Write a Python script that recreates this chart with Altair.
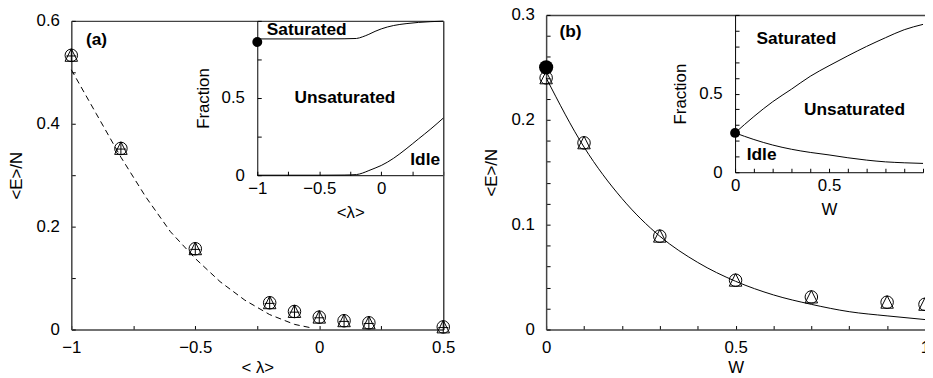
import altair as alt
import pandas as pd

FONT = "Liberation Sans"

# ---------------- data: panel (a) ----------------
lam_pts = [-1.0, -0.8, -0.5, -0.2, -0.1, 0.0, 0.1, 0.2, 0.5]
E_a_pts = [0.533, 0.352, 0.157, 0.052, 0.035, 0.024, 0.017, 0.013, 0.005]
lam_curve = [-1.0, -0.9, -0.8, -0.7, -0.6, -0.5, -0.4, -0.3, -0.2, -0.1, -0.03]
E_a_curve = [0.505, 0.42, 0.335, 0.258, 0.19, 0.138, 0.093, 0.057, 0.029, 0.010, 0.003]
lam_inset = [-1.0, -0.5, -0.3, -0.2, -0.15, -0.1, -0.05, 0.0, 0.1, 0.2, 0.3, 0.4, 0.5]
sat_edge_a = [0.883, 0.883, 0.884, 0.886, 0.897, 0.913, 0.932, 0.948, 0.970, 0.982, 0.990, 0.995, 0.998]
idle_edge_a = [0.0, 0.0, 0.001, 0.004, 0.014, 0.030, 0.046, 0.063, 0.110, 0.170, 0.235, 0.300, 0.370]
lam_dot_a = [-1.0]
frac_dot_a = [0.863]

# ---------------- data: panel (b) ----------------
W_pts = [0.0, 0.1, 0.3, 0.5, 0.7, 0.9, 1.0]
E_b_pts = [0.240, 0.178, 0.089, 0.047, 0.031, 0.026, 0.024]
W_curve = [0.0, 0.1, 0.2, 0.3, 0.4, 0.5, 0.6, 0.7, 0.8, 0.9, 1.0]
E_b_curve = [0.240, 0.174, 0.125, 0.089, 0.064, 0.046, 0.033, 0.024, 0.017, 0.013, 0.0095]
W_dot = [0.0]
E_b_dot = [0.25]
W_inset = [0.0, 0.1, 0.2, 0.3, 0.4, 0.5, 0.6, 0.7, 0.8, 0.9, 1.0]
sat_edge_b = [0.25, 0.354, 0.448, 0.528, 0.61, 0.677, 0.74, 0.80, 0.855, 0.906, 0.94]
idle_edge_b = [0.25, 0.208, 0.173, 0.146, 0.126, 0.11, 0.092, 0.077, 0.066, 0.06, 0.056]

# ---------------- tick values ----------------
ticks_lam = [-1.0, -0.75, -0.5, -0.25, 0.0, 0.25, 0.5]
ticks_Ea = [0.0, 0.1, 0.2, 0.3, 0.4, 0.5, 0.6]
ticks_frac_a = [0.0, 0.25, 0.5, 0.75, 1.0]
ticks_W = [0.0, 0.1, 0.2, 0.3, 0.4, 0.5, 0.6, 0.7, 0.8, 0.9, 1.0]
ticks_Eb = [0.0, 0.02, 0.04, 0.06, 0.08, 0.1, 0.12, 0.14, 0.16, 0.18, 0.2, 0.22, 0.24, 0.26, 0.28, 0.3]
ticks_frac_b = [0.0, 0.1, 0.2, 0.3, 0.4, 0.5, 0.6, 0.7, 0.8, 0.9, 1.0]

# ---------------- layout (plot-area pixels) ----------------
PW, PH = 863, 318
def S(domain, rng):
    return alt.Scale(domain=domain, range=rng, nice=False, zero=False)

XA = ([-1.0, 0.5], [0, 376])
YA = ([0.0, 0.6], [PH, 6])
XAi = ([-1.0, 0.5], [188, 376])
YAi = ([0.0, 1.0], [162, 6])
XB = ([0.0, 1.0], [480, 863])
YB = ([0.0, 0.3], [PH, 0])
XBi = ([0.0, 1.0], [671, 861])
YBi = ([0.0, 1.0], [159, 0])

MAIN_DOMAIN = "#444444"

def axis(orient, values, test, title, offset=0, lpad=14, tpad=6,
         dcolor="black", dwidth=1.0):
    return alt.Axis(
        orient=orient, offset=offset, values=values, format="~g",
        labelExpr=f"({test}) ? datum.label : ''",
        tickSize={"expr": "-4"}, tickColor="black", tickWidth=1,
        labelPadding=lpad, labelFlush=False, labelOverlap=False,
        labelFont=FONT, labelFontSize=17, labelColor="black",
        title=title, titleFont=FONT, titleFontSize=17,
        titleFontWeight="normal", titleColor="black", titlePadding=tpad,
        domainColor=dcolor, domainWidth=dwidth, grid=False,
    )

def border(orient, offset):
    return alt.Axis(orient=orient, offset=offset, labels=False, ticks=False,
                    title=None, grid=False, domainColor=MAIN_DOMAIN,
                    domainWidth=1.5)

half = "abs(datum.value*2-round(datum.value*2))<0.001"

TRI = "M0,-1.05L-1,0.95L1,0.95Z"
PLUS = "M0,-1.05L0,1.0M-0.8,0.1L0.8,0.1"

def text_layer(label, xd, yd, xs, ys):
    return alt.Chart(pd.DataFrame({"k": [0]})).mark_text(
        text=label, font=FONT, fontSize=17.5, fontWeight="bold",
        align="left", baseline="middle", color="black"
    ).encode(
        x=alt.XDatum(xd, type="quantitative", scale=S(*xs), axis=None),
        y=alt.YDatum(yd, type="quantitative", scale=S(*ys), axis=None),
    )

# ---------------- panel (a) ----------------
df_a = pd.DataFrame({
    "lam": lam_pts * 3,
    "E": E_a_pts * 3,
    "m": ["circle"] * len(lam_pts) + ["triangle"] * len(lam_pts) + ["plus"] * len(lam_pts),
})
a_points = alt.Chart(df_a).mark_point(filled=False, color="black", strokeWidth=1, size=160, opacity=1).encode(
    x=alt.X("lam:Q", scale=S(*XA), axis=axis("bottom", ticks_lam, half, "< λ>", lpad=14, tpad=4,
                                              dcolor=MAIN_DOMAIN, dwidth=1.5)),
    y=alt.Y("E:Q", scale=S(*YA), axis=axis("left", ticks_Ea,
                                          "abs(datum.value*5-round(datum.value*5))<0.001",
                                          "<E>/N", lpad=16, tpad=11, dcolor=MAIN_DOMAIN, dwidth=1.5)),
    shape=alt.Shape("m:N", scale=alt.Scale(domain=["circle", "triangle", "plus"],
                                           range=["circle", TRI, PLUS]), legend=None),
)
a_curve = alt.Chart(pd.DataFrame({"lam": lam_curve, "E": E_a_curve})).mark_line(
    color="black", strokeWidth=1, strokeDash=[6, 4]
).encode(
    x=alt.X("lam:Q", scale=S(*XA), axis=border("top", -6)),
    y=alt.Y("E:Q", scale=S(*YA), axis=border("right", -(PW - 376))),
)
df_ai = pd.DataFrame({
    "lam": lam_inset * 2,
    "frac": sat_edge_a + idle_edge_a,
    "edge": ["saturated"] * len(lam_inset) + ["idle"] * len(lam_inset),
})
a_inset = alt.Chart(df_ai).mark_line(color="black", strokeWidth=1, interpolate="monotone").encode(
    x=alt.X("lam:Q", scale=S(*XAi), axis=axis("bottom", ticks_lam, half + " && datum.value<0.4", "<λ>",
                                               offset=-(PH - 162), lpad=9.5, tpad=8)),
    y=alt.Y("frac:Q", scale=S(*YAi), axis=axis("left", ticks_frac_a, half + " && datum.value<0.6", "Fraction",
                                               offset=-188, lpad=17, tpad=9)),
    detail="edge:N",
)
a_dot = alt.Chart(pd.DataFrame({"lam": lam_dot_a, "frac": frac_dot_a})).mark_point(
    filled=True, color="black", size=100, opacity=1, shape="circle"
).encode(
    x=alt.X("lam:Q", scale=S(*XAi), axis=None),
    y=alt.Y("frac:Q", scale=S(*YAi), axis=None),
)
a_texts = [
    text_layer("Saturated", -0.923, 0.942, XAi, YAi),
    text_layer("Unsaturated", -0.70, 0.502, XAi, YAi),
    text_layer("Idle", 0.234, 0.096, XAi, YAi),
    text_layer("(a)", -0.941, 0.5635, XA, YA),
]

# ---------------- panel (b) ----------------
df_b = pd.DataFrame({
    "W": W_pts * 2,
    "E": E_b_pts * 2,
    "m": ["circle"] * len(W_pts) + ["triangle"] * len(W_pts),
})
b_points = alt.Chart(df_b).mark_point(filled=False, color="black", strokeWidth=1, size=160, opacity=1).encode(
    x=alt.X("W:Q", scale=S(*XB), axis=axis("bottom", ticks_W, half, "W", lpad=14, tpad=4,
                                            dcolor=MAIN_DOMAIN, dwidth=1.5)),
    y=alt.Y("E:Q", scale=S(*YB), axis=axis("left", ticks_Eb,
                                          "abs(datum.value*10-round(datum.value*10))<0.001",
                                          "<E>/N", offset=-480, lpad=16, tpad=11,
                                          dcolor=MAIN_DOMAIN, dwidth=1.5)),
    shape=alt.Shape("m:N", scale=alt.Scale(domain=["circle", "triangle"], range=["circle", TRI]),
                    legend=None),
)
b_curve = alt.Chart(pd.DataFrame({"W": W_curve, "E": E_b_curve})).mark_line(
    color="black", strokeWidth=1, interpolate="monotone"
).encode(
    x=alt.X("W:Q", scale=S(*XB), axis=border("top", 0)),
    y=alt.Y("E:Q", scale=S(*YB), axis=None),
)
b_dot = alt.Chart(pd.DataFrame({"W": W_dot, "E": E_b_dot})).mark_point(
    filled=True, color="black", size=205, opacity=1, shape="circle"
).encode(
    x=alt.X("W:Q", scale=S(*XB), axis=None),
    y=alt.Y("E:Q", scale=S(*YB), axis=None),
)
df_bi = pd.DataFrame({
    "W": W_inset * 2,
    "frac": sat_edge_b + idle_edge_b,
    "edge": ["saturated"] * len(W_inset) + ["idle"] * len(W_inset),
})
b_inset = alt.Chart(df_bi).mark_line(color="black", strokeWidth=1, interpolate="monotone").encode(
    x=alt.X("W:Q", scale=S(*XBi), axis=axis("bottom", ticks_W, half + " && datum.value<0.9", "W",
                                             offset=-(PH - 159), lpad=9.5, tpad=8)),
    y=alt.Y("frac:Q", scale=S(*YBi), axis=axis("left", ticks_frac_b, half + " && datum.value<0.6", "Fraction",
                                                offset=-671, lpad=17, tpad=9)),
    detail="edge:N",
)
b_inset_dot = alt.Chart(pd.DataFrame({"W": W_dot, "frac": [sat_edge_b[0]]})).mark_point(
    filled=True, color="black", size=100, opacity=1, shape="circle"
).encode(
    x=alt.X("W:Q", scale=S(*XBi), axis=None),
    y=alt.Y("frac:Q", scale=S(*YBi), axis=None),
)
b_texts = [
    text_layer("Saturated", 0.114, 0.844, XBi, YBi),
    text_layer("Unsaturated", 0.367, 0.398, XBi, YBi),
    text_layer("Idle", 0.062, 0.11, XBi, YBi),
    text_layer("(b)", 0.035, 0.2837, XB, YB),
]

layers = [a_curve, a_points, a_inset, a_dot] + a_texts + [b_curve, b_points, b_dot, b_inset, b_inset_dot] + b_texts

chart = alt.layer(*layers).resolve_scale(
    x="independent", y="independent", shape="independent"
).properties(
    width=PW, height=PH,
    padding={"left": 64, "top": 5, "right": 0, "bottom": 47},
    autosize=alt.AutoSizeParams(type="none"),
    background="white",
).configure_view(strokeWidth=0)

chart.save("out.html", embed_options={"renderer": "svg", "actions": False})
